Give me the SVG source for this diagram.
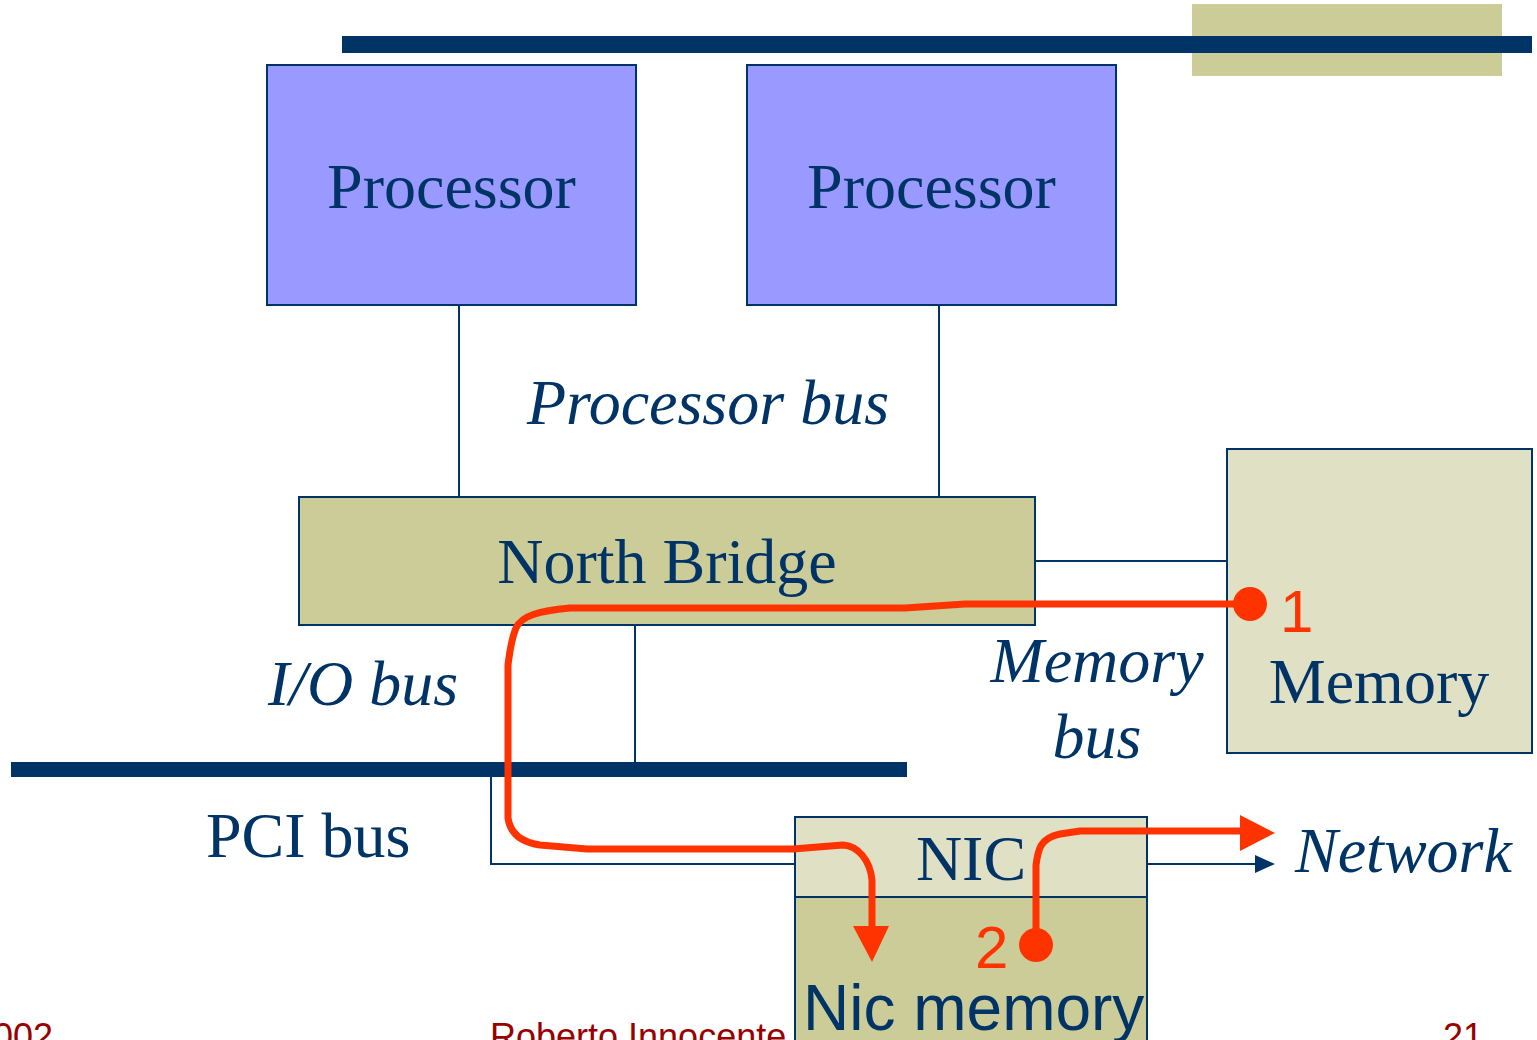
<svg xmlns="http://www.w3.org/2000/svg" width="1537" height="1040" viewBox="0 0 1537 1040">
  <style>
    .serif { font-family: "Liberation Serif", "Times New Roman", serif; font-size: 64px; fill: #003366; }
    .it { font-style: italic; }
    .sans { font-family: "Liberation Sans", Arial, sans-serif; }
    .box { stroke: #003366; stroke-width: 2; }
    .cpu { fill: #9999FF; }
    .tan { fill: #CCCC99; }
    .pale { fill: #E0E0C4; }
    .wire { stroke: #003366; stroke-width: 2; fill: none; }
    .flow { stroke: #FF3300; stroke-width: 7; fill: none; stroke-linejoin: round; stroke-linecap: butt; }
    .red { fill: #FF3300; }
    .foot { font-family: "Liberation Sans", Arial, sans-serif; font-size: 36px; fill: #990000; }
  </style>

  <!-- slide decoration -->
  <rect x="1192" y="4" width="310" height="72" fill="#CCCC99"/>
  <rect x="342" y="36" width="1190" height="17" fill="#003366"/>

  <!-- footer -->
  <g id="footer">
    <text class="foot" x="-7" y="1049">002</text>
    <text class="foot" x="490" y="1049">Roberto Innocente</text>
    <text class="foot" x="1443" y="1049">21</text>
  </g>

  <!-- buses and wires -->
  <g id="connectors">
    <line class="wire" x1="459" y1="305" x2="459" y2="497"/>
    <line class="wire" x1="939" y1="305" x2="939" y2="497"/>
    <line class="wire" x1="1035" y1="561" x2="1227" y2="561"/>
    <line class="wire" x1="635" y1="625" x2="635" y2="762"/>
    <rect x="11" y="762" width="896" height="15" fill="#003366"/>
    <polyline class="wire" points="491,777 491,864 795,864"/>
    <line class="wire" x1="1147" y1="864" x2="1256" y2="864"/>
    <polygon points="1255,855 1275,864 1255,873" fill="#003366"/>
  </g>

  <g id="cpu1">
    <rect class="box cpu" x="267" y="65" width="369" height="240"/>
    <text class="serif" x="451.5" y="208" text-anchor="middle">Processor</text>
  </g>
  <g id="cpu2">
    <rect class="box cpu" x="747" y="65" width="369" height="240"/>
    <text class="serif" x="931.5" y="208" text-anchor="middle">Processor</text>
  </g>

  <text class="serif it" x="527" y="424">Processor bus</text>

  <g id="northbridge">
    <rect class="box tan" x="299" y="497" width="736" height="128"/>
    <text class="serif" x="667" y="583" text-anchor="middle">North Bridge</text>
  </g>

  <g id="memory">
    <rect class="box pale" x="1227" y="449" width="305" height="304"/>
    <text class="serif" x="1379" y="703" text-anchor="middle">Memory</text>
  </g>

  <text class="serif it" x="1097" y="682" text-anchor="middle">Memory</text>
  <text class="serif it" x="1097" y="758" text-anchor="middle">bus</text>
  <text class="serif it" x="268" y="705">I/O bus</text>
  <text class="serif" x="206" y="857">PCI bus</text>

  <g id="nic">
    <rect class="box pale" x="795" y="817" width="352" height="80"/>
    <text class="serif" x="971" y="880" text-anchor="middle">NIC</text>
  </g>
  <g id="nicmem">
    <rect class="box tan" x="795" y="897" width="352" height="160"/>
    <text class="sans" x="803" y="1030" font-size="64" fill="#003366">Nic memory</text>
  </g>

  <text class="serif it" x="1295" y="872">Network</text>

  <!-- data path: memory to NIC memory -->
  <g id="flow1">
    <circle class="red" cx="1250" cy="604" r="17"/>
    <path class="flow" d="M1250,604 L965,604 L905,608 L570,608 C540,611 522,615 516,628 C511,640 510,650 508,665 L508,818 C510,832 520,842 540,845 L587,849 L793,849 L843,845 C858,846 870,860 872,880 L872,927"/>
    <polygon class="red" points="853,926 889,926 872,962"/>
    <text class="sans red" x="1280" y="632" font-size="60">1</text>
  </g>

  <!-- data path: NIC memory to network -->
  <g id="flow2">
    <circle class="red" cx="1036" cy="945" r="17"/>
    <path class="flow" d="M1036,945 L1036,865 C1038,850 1040,838 1060,834 L1080,831 L1241,831"/>
    <polygon class="red" points="1240,815 1275,833 1240,851"/>
    <text class="sans red" x="975" y="968" font-size="60">2</text>
  </g>
</svg>
